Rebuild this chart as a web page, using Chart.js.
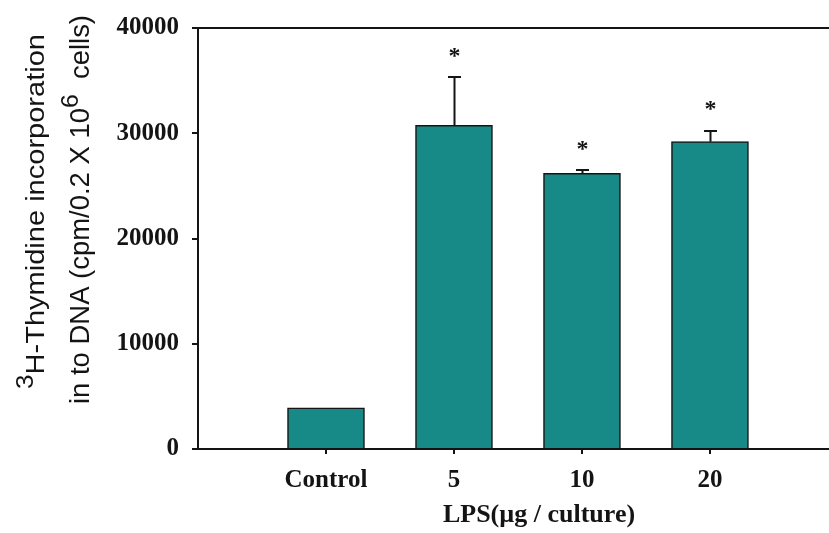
<!DOCTYPE html>
<html>
<head>
<meta charset="utf-8">
<script src="https://cdn.jsdelivr.net/npm/chart.js@4.4.1/dist/chart.umd.min.js"></script>
<style>
  html, body { margin: 0; padding: 0; background: #fff; overflow: hidden; }
  #wrap { width: 829px; height: 533px; position: relative; }
</style>
</head>
<body>
<div id="wrap"><canvas id="c" width="829" height="533"></canvas></div>
<script>
// LPS dose groups and 3H-thymidine uptake (cpm / 0.2 x 10^6 cells)
const categories = ['Control', '5', '10', '20'];
const uptake = [3900, 30750, 26200, 29200];
const sem = [0, 4550, 300, 1050];
const significance = ['', '*', '*', '*'];
const yTicks = [0, 10000, 20000, 30000, 40000];

const INK = '#141414';
const TEAL = '#178a87';
const serifBold = (size) => ({ family: '"Liberation Serif", "Times New Roman", serif', size: size, weight: 'bold' });

// Error bars (upper whisker with cap), significance marks, frame top and axis titles
const decorations = {
  id: 'decorations',
  afterDatasetsDraw(chart) {
    const { ctx, chartArea, scales: { x, y } } = chart;
    ctx.save();
    // top frame line
    ctx.strokeStyle = INK;
    ctx.lineWidth = 2;
    ctx.beginPath();
    ctx.moveTo(chartArea.left, chartArea.top);
    ctx.lineTo(chartArea.right, chartArea.top);
    ctx.stroke();

    categories.forEach((c, i) => {
      const px = Math.round(x.getPixelForValue(i + 1)) + 0.5;
      const yBar = y.getPixelForValue(uptake[i]);
      const yTop = y.getPixelForValue(uptake[i] + sem[i]);
      if (sem[i] > 0) {
        ctx.strokeStyle = INK;
        ctx.lineWidth = 2;
        ctx.beginPath();
        ctx.moveTo(px, yBar);
        ctx.lineTo(px, Math.round(yTop));
        ctx.moveTo(px - 6.5, Math.round(yTop));
        ctx.lineTo(px + 6.5, Math.round(yTop));
        ctx.stroke();
      }
      if (significance[i]) {
        ctx.fillStyle = INK;
        ctx.font = 'bold 24px "Liberation Serif", serif';
        ctx.textAlign = 'center';
        ctx.textBaseline = 'alphabetic';
        const m = ctx.measureText(significance[i]);
        const cy = yTop - 25;
        ctx.fillText(significance[i], px, cy + (m.actualBoundingBoxAscent - m.actualBoundingBoxDescent) / 2);
      }
    });
    ctx.restore();
  },
  afterDraw(chart) {
    const { ctx } = chart;
    ctx.save();
    ctx.fillStyle = INK;
    // x axis title
    ctx.font = 'bold 26px "Liberation Serif", serif';
    ctx.textAlign = 'center';
    ctx.textBaseline = 'alphabetic';
    ctx.fillText('LPS(\u00b5g / culture)', 539, 522);

    // y axis title: two rotated lines with superscripts
    const drawRotated = (segments, baseX, startY, length, size) => {
      ctx.save();
      ctx.translate(baseX, startY);
      ctx.rotate(-Math.PI / 2);
      ctx.textAlign = 'left';
      ctx.textBaseline = 'alphabetic';
      let total = 0;
      segments.forEach(s => {
        ctx.font = (s.sup ? size * 0.9 : size) + 'px "Liberation Sans", Arial, sans-serif';
        s.w = ctx.measureText(s.t).width;
        total += s.w;
      });
      ctx.scale(length / total, 1);
      let pos = 0;
      segments.forEach(s => {
        ctx.font = (s.sup ? size * 0.9 : size) + 'px "Liberation Sans", Arial, sans-serif';
        ctx.fillText(s.t, pos, s.sup ? -size * 0.42 : 0);
        pos += s.w;
      });
      ctx.restore();
    };
    drawRotated([{ t: '3', sup: true }, { t: 'H-Thymidine incorporation' }], 44, 389, 355, 26);
    drawRotated([{ t: 'in to DNA (cpm/0.2 X 10' }, { t: '6', sup: true }, { t: '  cells)' }], 89, 404, 389, 27);
    ctx.restore();
  }
};

new Chart(document.getElementById('c'), {
  type: 'bar',
  data: {
    datasets: [{
      data: categories.map((c, i) => ({ x: i + 1, y: uptake[i] })),
      backgroundColor: TEAL,
      borderColor: INK,
      borderWidth: 1.5,
      barThickness: 77
    }]
  },
  options: {
    responsive: false,
    animation: false,
    layout: { padding: { top: 21, left: 0, right: 0, bottom: 0 } },
    plugins: { legend: { display: false }, tooltip: { enabled: false } },
    scales: {
      x: {
        type: 'linear',
        min: 0,
        max: 4.93,
        offset: false,
        afterBuildTicks: (s) => { s.ticks = categories.map((c, i) => ({ value: i + 1 })); },
        afterFit: (s) => { s.height = 84; },
        ticks: {
          callback: (v) => categories[v - 1],
          font: serifBold(25),
          color: INK,
          padding: 12,
          autoSkip: false,
          maxRotation: 0
        },
        grid: { offset: false, drawOnChartArea: false, tickLength: 5, color: INK, lineWidth: 2 },
        border: { color: INK, width: 2 }
      },
      y: {
        min: 0,
        max: 40000,
        afterBuildTicks: (s) => { s.ticks = yTicks.map(v => ({ value: v })); },
        afterFit: (s) => { s.width = 198; },
        ticks: {
          callback: (v) => String(v),
          font: serifBold(25),
          color: INK,
          padding: 13
        },
        grid: { drawOnChartArea: false, tickLength: 6, color: INK, lineWidth: 2 },
        border: { color: INK, width: 2 }
      }
    }
  },
  plugins: [decorations]
});
</script>
</body>
</html>
